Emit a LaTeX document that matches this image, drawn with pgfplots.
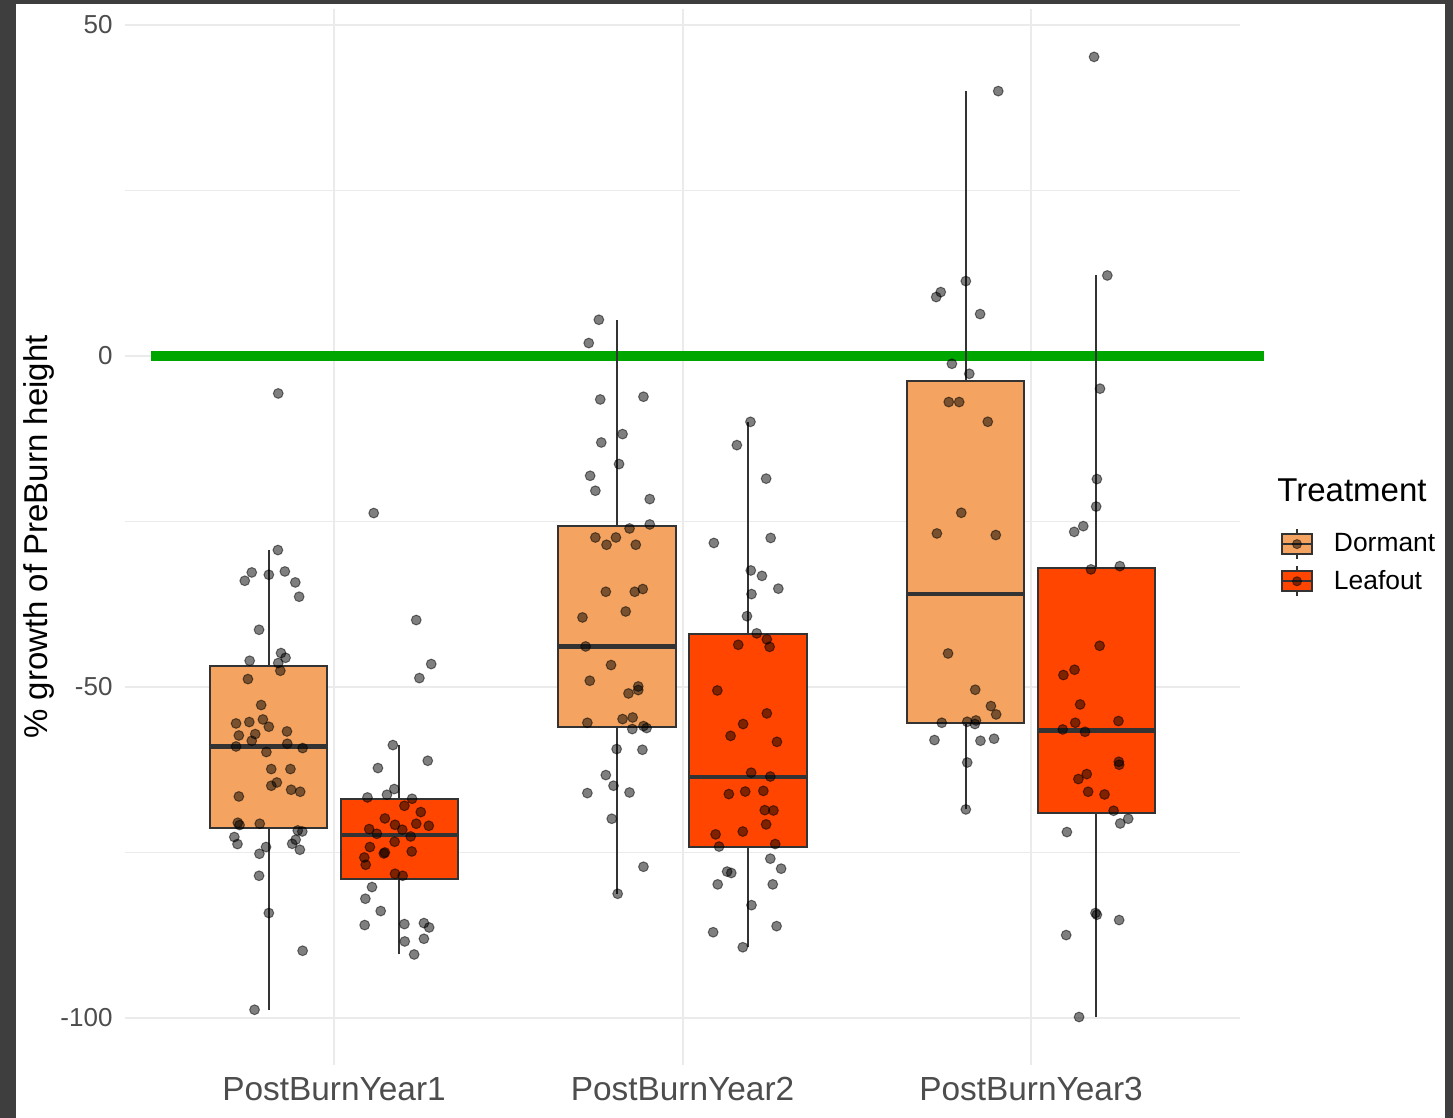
\documentclass[border=0pt]{standalone}
\usepackage{fontspec}
\setmainfont{Liberation Sans}
\usepackage{pgfplots}
\pgfplotsset{compat=1.18}
\definecolor{dormant}{RGB}{244,164,96}
\definecolor{leafout}{RGB}{255,69,0}
\definecolor{boxline}{RGB}{51,51,51}
\definecolor{gridc}{RGB}{235,235,235}
\definecolor{tickc}{RGB}{77,77,77}
\definecolor{framec}{RGB}{62,62,62}
\definecolor{hgreen}{RGB}{0,166,0}
\pgfplotsset{
  jit/.style={only marks, mark=*, mark size=2.45pt, forget plot,
    mark options={draw=black, fill=black, line width=0.5pt, opacity=0.5}},
  bx/.style={draw=boxline, fill=#1, line width=1pt, line cap=rect, forget plot},
  wh/.style={draw=boxline, line width=1.1pt, forget plot},
  md/.style={draw=boxline, line width=2.1pt, forget plot},
  keyimg/.style={legend image code/.code={
    \draw[boxline, line width=1.1pt] (7.5pt,-7.5pt) -- (7.5pt,7.5pt);
    \draw[boxline, fill=#1, line width=1pt] (0pt,-5pt) rectangle (15pt,5pt);
    \draw[boxline, line width=1pt] (0pt,0pt) -- (15pt,0pt);
    \fill[black, opacity=0.5] (7.5pt,0pt) circle (2.3pt);
  }},
}
\begin{document}
\begin{tikzpicture}
\useasboundingbox (0,0) rectangle (726.5pt,559pt);
\fill[framec] (0,0) rectangle (726.5pt,559pt);
\fill[white] (8pt,0) rectangle (722.5pt,557pt);
\begin{axis}[
  at={(62.45pt,26.45pt)}, anchor=south west,
  scale only axis, width=557.6pt, height=528.1pt,
  xmin=0.4, xmax=3.6, ymin=-107.15, ymax=52.4,
  axis line style={draw=none},
  major tick length=0pt, minor tick length=0pt,
  xtick={1,2,3}, xticklabels={PostBurnYear1,PostBurnYear2,PostBurnYear3},
  ytick={-100,-50,0,50}, yticklabels={-100,-50,0,50},
  minor ytick={-75,-25,25},
  grid=both,
  major grid style={gridc, line width=1pt},
  minor grid style={gridc, line width=0.5pt},
  xticklabel style={font=\fontsize{16.7}{16.7}\selectfont, text=tickc, anchor=north, inner sep=0pt, yshift=-6pt},
  yticklabel style={font=\fontsize{13}{13}\selectfont, text=tickc, anchor=east, inner sep=0pt, xshift=-6pt},
  clip=false,
  legend cell align=left,
  legend style={draw=none, fill=none, inner sep=0pt, outer sep=0pt,
    nodes={inner sep=0pt}, column sep=10.5pt, row sep=2.5pt,
    font=\fontsize{13.2}{13.2}\selectfont,
    at={(rel axis cs:1.03667,0.50852)}, anchor=north west},
]
\addplot[hgreen, line width=5pt, forget plot] coordinates {(0.475,0) (3.669,0)};

% PostBurnYear1 Dormant: whiskers, box (Q1-Q3), median
\addplot[wh] coordinates {(0.8125,-98.79)(0.8125,-71.35)};
\addplot[wh] coordinates {(0.8125,-46.93)(0.8125,-29.35)};
\addplot[bx=dormant] coordinates {(0.64375,-71.35)(0.98125,-71.35)(0.98125,-46.93)(0.64375,-46.93)(0.64375,-71.35)};
\addplot[md] coordinates {(0.64375,-59.02)(0.98125,-59.02)};
% PostBurnYear1 Leafout
\addplot[wh] coordinates {(1.1875,-90.44)(1.1875,-79.0)};
\addplot[wh] coordinates {(1.1875,-66.9)(1.1875,-58.81)};
\addplot[bx=leafout] coordinates {(1.01875,-79.0)(1.35625,-79.0)(1.35625,-66.9)(1.01875,-66.9)(1.01875,-79.0)};
\addplot[md] coordinates {(1.01875,-72.4)(1.35625,-72.4)};
% PostBurnYear2 Dormant
\addplot[wh] coordinates {(1.8125,-81.27)(1.8125,-56.1)};
\addplot[wh] coordinates {(1.8125,-25.7)(1.8125,5.44)};
\addplot[bx=dormant] coordinates {(1.64375,-56.1)(1.98125,-56.1)(1.98125,-25.7)(1.64375,-25.7)(1.64375,-56.1)};
\addplot[md] coordinates {(1.64375,-43.91)(1.98125,-43.91)};
% PostBurnYear2 Leafout
\addplot[wh] coordinates {(2.1875,-89.35)(2.1875,-74.2)};
\addplot[wh] coordinates {(2.1875,-42.0)(2.1875,-9.98)};
\addplot[bx=leafout] coordinates {(2.01875,-74.2)(2.35625,-74.2)(2.35625,-42.0)(2.01875,-42.0)(2.01875,-74.2)};
\addplot[md] coordinates {(2.01875,-63.6)(2.35625,-63.6)};
% PostBurnYear3 Dormant
\addplot[wh] coordinates {(2.8125,-68.53)(2.8125,-55.4)};
\addplot[wh] coordinates {(2.8125,-3.78)(2.8125,39.98)};
\addplot[bx=dormant] coordinates {(2.64375,-55.4)(2.98125,-55.4)(2.98125,-3.78)(2.64375,-3.78)(2.64375,-55.4)};
\addplot[md] coordinates {(2.64375,-36.0)(2.98125,-36.0)};
% PostBurnYear3 Leafout
\addplot[wh] coordinates {(3.1875,-99.89)(3.1875,-69.1)};
\addplot[wh] coordinates {(3.1875,-32.1)(3.1875,12.13)};
\addplot[bx=leafout] coordinates {(3.01875,-69.1)(3.35625,-69.1)(3.35625,-32.1)(3.01875,-32.1)(3.01875,-69.1)};
\addplot[md] coordinates {(3.01875,-56.6)(3.35625,-56.6)};

% PostBurnYear1 Dormant
\addplot[jit] coordinates {(0.840,-5.69)(0.839,-29.35)(0.764,-32.73)(0.744,-33.99)(0.813,-33.08)(0.859,-32.58)(0.889,-34.24)(0.900,-36.40)(0.785,-41.39)(0.848,-44.91)(0.861,-45.62)(0.758,-46.07)(0.840,-46.42)(0.846,-47.58)(0.753,-48.84)(0.791,-52.76)(0.719,-55.54)(0.757,-55.33)(0.796,-54.94)(0.813,-56.04)(0.727,-57.36)(0.774,-57.15)(0.764,-58.16)(0.865,-56.75)(0.719,-59.02)(0.866,-58.61)(0.910,-59.26)(0.806,-59.86)(0.820,-62.43)(0.875,-62.43)(0.836,-64.46)(0.820,-64.95)(0.877,-65.56)(0.903,-65.86)(0.727,-66.57)(0.724,-70.54)(0.729,-70.89)(0.787,-70.69)(0.714,-72.70)(0.723,-73.76)(0.805,-74.21)(0.786,-75.23)(0.896,-71.71)(0.909,-71.86)(0.890,-73.11)(0.880,-73.72)(0.902,-74.62)(0.785,-78.55)(0.813,-84.18)(0.910,-89.88)(0.772,-98.79)};
% PostBurnYear1 Leafout
\addplot[jit] coordinates {(1.114,-23.76)(1.236,-39.92)(1.279,-46.57)(1.245,-48.69)(1.169,-58.81)(1.126,-62.28)(1.269,-61.18)(1.173,-65.45)(1.152,-66.31)(1.096,-66.72)(1.224,-66.92)(1.202,-67.98)(1.249,-68.93)(1.146,-69.89)(1.175,-70.85)(1.236,-70.69)(1.272,-71.00)(1.101,-71.50)(1.196,-71.60)(1.123,-72.21)(1.220,-72.61)(1.174,-73.41)(1.103,-74.21)(1.223,-74.88)(1.143,-75.18)(1.146,-75.03)(1.087,-75.79)(1.091,-76.89)(1.175,-78.25)(1.197,-78.55)(1.109,-80.26)(1.090,-82.02)(1.134,-83.88)(1.088,-86.00)(1.202,-85.85)(1.258,-85.70)(1.273,-86.36)(1.203,-88.47)(1.258,-88.07)(1.230,-90.44)};
% PostBurnYear2 Dormant
\addplot[jit] coordinates {(1.760,5.44)(1.731,1.92)(1.764,-6.60)(1.888,-6.19)(1.828,-11.83)(1.767,-13.10)(1.818,-16.36)(1.735,-18.13)(1.750,-20.39)(1.906,-21.65)(1.906,-25.48)(1.848,-26.09)(1.750,-27.45)(1.782,-28.55)(1.809,-27.45)(1.866,-28.55)(1.780,-35.65)(1.863,-35.65)(1.886,-35.24)(1.837,-38.63)(1.713,-39.53)(1.722,-43.91)(1.795,-46.72)(1.734,-49.09)(1.873,-49.95)(1.873,-50.50)(1.845,-51.01)(1.727,-55.44)(1.828,-54.88)(1.857,-54.64)(1.888,-55.94)(1.897,-56.24)(1.856,-56.39)(1.811,-59.41)(1.885,-59.52)(1.780,-63.34)(1.802,-64.95)(1.727,-66.06)(1.848,-65.97)(1.797,-69.94)(1.888,-77.19)(1.814,-81.27)};
% PostBurnYear2 Leafout
\addplot[jit] coordinates {(2.195,-9.98)(2.156,-13.50)(2.240,-18.56)(2.090,-28.28)(2.253,-27.52)(2.196,-32.43)(2.228,-33.25)(2.275,-35.18)(2.198,-36.00)(2.185,-39.34)(2.213,-41.93)(2.242,-42.84)(2.250,-43.97)(2.160,-43.66)(2.100,-50.56)(2.242,-54.02)(2.174,-55.63)(2.138,-57.42)(2.271,-58.32)(2.197,-62.98)(2.252,-63.56)(2.133,-66.21)(2.180,-65.83)(2.232,-65.73)(2.236,-68.64)(2.261,-68.69)(2.240,-70.79)(2.173,-71.87)(2.095,-72.30)(2.105,-74.14)(2.266,-73.76)(2.252,-75.97)(2.283,-77.48)(2.128,-77.92)(2.140,-78.13)(2.101,-79.85)(2.259,-79.85)(2.198,-82.99)(2.270,-86.16)(2.088,-87.08)(2.173,-89.35)};
% PostBurnYear3 Dormant
\addplot[jit] coordinates {(2.906,39.98)(2.813,11.28)(2.741,9.62)(2.728,8.87)(2.854,6.30)(2.773,-1.21)(2.823,-2.72)(2.764,-6.99)(2.794,-6.99)(2.876,-9.97)(2.800,-23.72)(2.730,-26.84)(2.899,-27.08)(2.762,-44.97)(2.840,-50.45)(2.885,-52.92)(2.900,-54.18)(2.744,-55.44)(2.817,-55.29)(2.842,-55.09)(2.839,-55.63)(2.723,-58.05)(2.855,-58.16)(2.894,-57.85)(2.817,-61.44)(2.813,-68.53)};
% PostBurnYear3 Leafout
\addplot[jit] coordinates {(3.181,45.15)(3.219,12.13)(3.198,-4.97)(3.189,-18.63)(3.187,-22.78)(3.124,-26.60)(3.150,-25.74)(3.172,-32.27)(3.255,-31.78)(3.197,-43.81)(3.093,-48.23)(3.125,-47.43)(3.141,-52.67)(3.127,-55.44)(3.251,-55.18)(3.091,-56.45)(3.155,-56.80)(3.252,-61.33)(3.253,-61.78)(3.160,-63.19)(3.136,-63.94)(3.164,-65.86)(3.211,-66.27)(3.237,-68.73)(3.256,-70.65)(3.279,-69.94)(3.103,-71.95)(3.185,-84.18)(3.189,-84.44)(3.253,-85.24)(3.101,-87.51)(3.138,-99.89)};

\addlegendimage{keyimg=dormant}
\addlegendentry{Dormant}
\addlegendimage{keyimg=leafout}
\addlegendentry{Leafout}
\end{axis}
\node[anchor=base west, inner sep=0pt, font=\fontsize{16.5}{16.5}\selectfont] at (638.5pt,308pt) {Treatment};
\node[rotate=90, anchor=base, inner sep=0pt, font=\fontsize{16.5}{16.5}\selectfont] at (23.75pt,290.5pt) {\% growth of PreBurn height};
\end{tikzpicture}
\end{document}
